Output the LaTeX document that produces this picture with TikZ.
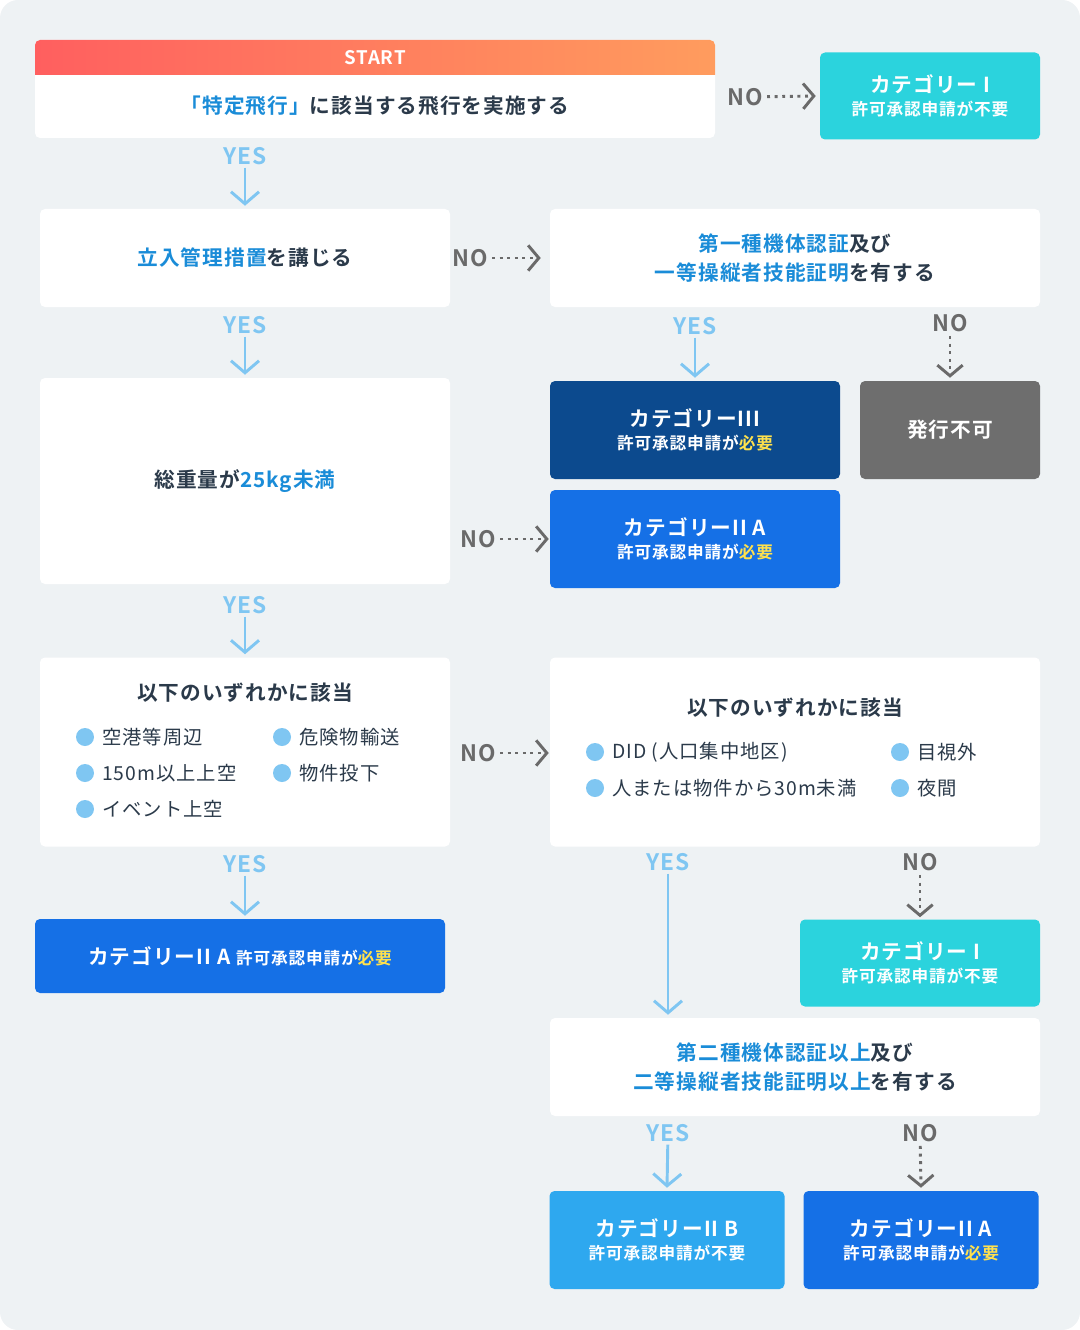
\documentclass[tikz,border=0pt]{standalone}
\usepackage{fontspec}
\setmainfont{Noto Sans CJK JP}[BoldFont={Noto Sans CJK JP Bold}, LetterSpace=5]
\usetikzlibrary{arrows.meta}
\definecolor{bgray}{HTML}{EEF2F4}
\definecolor{tdark}{HTML}{2B3A4A}
\definecolor{tblue}{HTML}{1A8CD8}
\definecolor{lblue}{HTML}{7FC6F2}
\definecolor{ngray}{HTML}{6A6A6A}
\definecolor{ccyan}{HTML}{2BD3DD}
\definecolor{cnavy}{HTML}{0C4A8E}
\definecolor{cblue}{HTML}{1570E6}
\definecolor{csky}{HTML}{2EA8EF}
\definecolor{cgray}{HTML}{6E6E6E}
\definecolor{myel}{HTML}{FFE14D}
\definecolor{sred}{HTML}{FF5F5F}
\definecolor{sorange}{HTML}{FF9C5E}
\def\pxu{0.75pt}
\newcommand\hl[1]{\textcolor{tblue}{#1}}
\newcommand\need{\textcolor{myel}{必要}}
\newcommand\subtxt[1]{{\fontsize{12.5}{15}\selectfont #1}}
\tikzset{
  box/.style={fill=white, rounded corners=5*\pxu, inner sep=0pt, align=center,
    text=tdark, font=\bfseries\fontsize{15.5}{22}\selectfont},
  cbox/.style={box, text=white, font=\bfseries\fontsize{15.5}{19}\selectfont},
  yeslab/.style={text=lblue, font=\bfseries\fontsize{17}{17}\selectfont, inner sep=2pt},
  nolab/.style={text=ngray, font=\bfseries\fontsize{17}{17}\selectfont, inner sep=3pt},
  yesarr/.style={draw=lblue, line width=2.2pt, -{Straight Barb[length=9pt, width=21pt, line width=2.2pt]}},
  noarr/.style={draw=ngray, line width=2.2pt, dash pattern=on 2.2pt off 3.5pt,
    -{Straight Barb[length=8pt, width=19pt, line width=2.2pt]}},
  item/.style={anchor=west, text=tdark, font=\fontsize{14.5}{16}\selectfont, inner sep=0pt},
  dot/.style={fill=lblue, circle, inner sep=0pt, minimum size=18*\pxu}
}
\begin{document}
\begin{tikzpicture}[x=\pxu, y=-\pxu]
\fill[bgray, rounded corners=18*\pxu] (0,0) rectangle (1080,1330);
\useasboundingbox (0,0) rectangle (1080,1330);
% start
\node[box, minimum width=680*\pxu, minimum height=98*\pxu] (start) at (375,89) {};
\begin{scope}
\clip[rounded corners=5*\pxu] (35,40) rectangle (715,138);
\shade[left color=sred, right color=sorange] (35,40) rectangle (715,75);
\end{scope}
\node[text=white, font=\bfseries\fontsize{14}{14}\selectfont] at (375,58) {START};
\node[text=tdark, font=\bfseries\fontsize{15.5}{15}\selectfont] at (375,106) {\hl{「特定飛行」}に該当する飛行を実施する};
\node[cbox, fill=ccyan, minimum width=220*\pxu, minimum height=87*\pxu] (cat1a) at (930,96)
  {カテゴリー I\\[-2pt]\subtxt{許可承認申請が不要}};
% row 2
\node[box, minimum width=410*\pxu, minimum height=98*\pxu] (kanri) at (245,258) {\hl{立入管理措置}を講じる};
\node[box, minimum width=490*\pxu, minimum height=98*\pxu] (first) at (795,258)
  {\hl{第一種機体認証}及び\\\hl{一等操縦者技能証明}を有する};
% row 3
\node[box, minimum width=410*\pxu, minimum height=206*\pxu] (weight) at (245,481) {総重量が\hl{25kg未満}};
\node[cbox, fill=cnavy, minimum width=290*\pxu, minimum height=98*\pxu] (cat3) at (695,430)
  {カテゴリーIII\\[-2pt]\subtxt{許可承認申請が\need}};
\node[cbox, fill=cgray, minimum width=180*\pxu, minimum height=98*\pxu] (ng) at (950,430) {発行不可};
\node[cbox, fill=cblue, minimum width=290*\pxu, minimum height=98*\pxu] (cat2a) at (695,539)
  {カテゴリーII A\\[-2pt]\subtxt{許可承認申請が\need}};
% row 4
\node[box, minimum width=410*\pxu, minimum height=189*\pxu] (lista) at (245,752) {};
\node[box] at (245,693) {以下のいずれかに該当};
\foreach \x/\y/\t in {85/737/空港等周辺, 282/737/危険物輸送, 85/773/150m以上上空, 282/773/物件投下, 85/809/イベント上空}
  {\node[dot] at (\x,\y) {}; \node[item] at (\x+17,\y) {\t};}
\node[box, minimum width=490*\pxu, minimum height=189*\pxu] (listb) at (795,752) {};
\node[box] at (795,708) {以下のいずれかに該当};
\foreach \x/\y/\t in {595/752/DID (人口集中地区), 900/752/目視外, 595/788/人または物件から30m未満, 900/788/夜間}
  {\node[dot] at (\x,\y) {}; \node[item] at (\x+17,\y) {\t};}
% row 5
\node[cbox, fill=cblue, minimum width=410*\pxu, minimum height=74*\pxu] (cat2b) at (240,956)
  {カテゴリーII A \subtxt{許可承認申請が\need}};
\node[cbox, fill=ccyan, minimum width=240*\pxu, minimum height=87*\pxu] (cat1b) at (920,963)
  {カテゴリー I\\[-2pt]\subtxt{許可承認申請が不要}};
\node[box, minimum width=490*\pxu, minimum height=98*\pxu] (second) at (795,1067)
  {\hl{第二種機体認証以上}及び\\\hl{二等操縦者技能証明以上}を有する};
\node[cbox, fill=csky, minimum width=235*\pxu, minimum height=98*\pxu] (catb) at (667,1240)
  {カテゴリーII B\\[-2pt]\subtxt{許可承認申請が不要}};
\node[cbox, fill=cblue, minimum width=235*\pxu, minimum height=98*\pxu] (catc) at (921,1240)
  {カテゴリーII A\\[-2pt]\subtxt{許可承認申請が\need}};
% labels
\node[yeslab] (y1) at (245,156) {YES};
\node[yeslab] (y2) at (245,325) {YES};
\node[yeslab] (y3) at (695,326) {YES};
\node[yeslab] (y4) at (245,605) {YES};
\node[yeslab] (y5) at (245,864) {YES};
\node[yeslab] (y6) at (668,862) {YES};
\node[yeslab] (y7) at (668,1133) {YES};
\node[nolab] (n1) at (745,97) {NO};
\node[nolab] (n2) at (470,258) {NO};
\node[nolab] (n3) at (950,323) {NO};
\node[nolab] (n4) at (478,539) {NO};
\node[nolab] (n5) at (478,753) {NO};
\node[nolab] (n6) at (920,862) {NO};
\node[nolab] (n7) at (920,1133) {NO};
% connectors
\draw[yesarr] (y1) -- ([yshift=3*\pxu]kanri.north);
\draw[yesarr] (y2) -- ([yshift=3*\pxu]weight.north);
\draw[yesarr] (y3) -- ([yshift=3*\pxu]cat3.north);
\draw[yesarr] (y4) -- ([yshift=3*\pxu]lista.north);
\draw[yesarr] (y5) -- ([yshift=3*\pxu]cat2b.north -| y5);
\draw[yesarr] (y6) -- ([yshift=3*\pxu]second.north -| y6);
\draw[yesarr] (y7) -- ([yshift=3*\pxu]catb.north);
\draw[noarr] (n1) -- ([xshift=-4*\pxu]cat1a.west);
\draw[noarr] (n2) -- ([xshift=-9*\pxu]first.west);
\draw[noarr] (n3) -- ([yshift=3*\pxu]ng.north);
\draw[noarr] (n4) -- ([xshift=-1*\pxu]cat2a.west);
\draw[noarr] (n5) -- ([xshift=-1*\pxu]listb.west |- n5);
\draw[noarr] (n6) -- ([yshift=2*\pxu]cat1b.north);
\draw[noarr] (n7) -- ([yshift=3*\pxu]catc.north);
\end{tikzpicture}
\end{document}
